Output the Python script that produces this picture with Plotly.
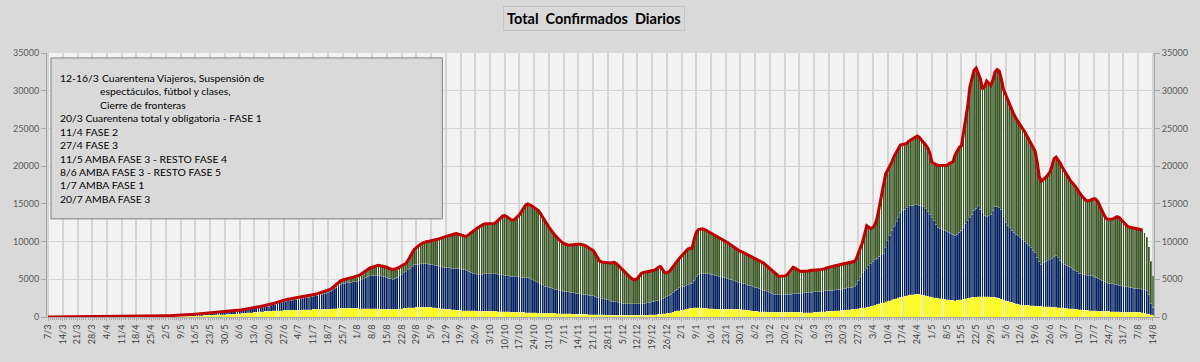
import plotly.graph_objects as go
import pandas as pd

# ---------------- DATA ----------------
inicio = "2020-03-07"

# total diario (tope de las barras / linea roja)
total = [
    3, 4, 6, 8, 10, 12, 15,
    18, 22, 27, 32, 38, 44, 50,
    56, 62, 68, 74, 80, 85, 90,
    95, 100, 104, 108, 110, 112, 112,
    112, 110, 110, 108, 108, 108, 110,
    110, 110, 112, 114, 115, 116, 118,
    120, 122, 125, 128, 130, 133, 136,
    140, 143, 147, 151, 155, 160, 165,
    170, 176, 182, 190, 200, 210, 220,
    230, 245, 262, 282, 305, 330, 355,
    380, 410, 440, 475, 510, 545, 575,
    600, 620, 640, 660, 690, 715, 735,
    750, 770, 790, 810, 840, 865, 885,
    900, 940, 990, 1040, 1100, 1150, 1200,
    1250, 1300, 1350, 1400, 1450, 1500, 1550,
    1600, 1680, 1780, 1880, 1980, 2080, 2170,
    2250, 2300, 2350, 2400, 2440, 2480, 2520,
    2550, 2600, 2650, 2710, 2770, 2830, 2890,
    2950, 3020, 3100, 3180, 3260, 3340, 3420,
    3500, 3650, 3850, 4100, 4350, 4600, 4800,
    4900, 5000, 5080, 5150, 5220, 5290, 5350,
    5400, 5550, 5750, 5950, 6150, 6350, 6500,
    6600, 6700, 6800, 6850, 6800, 6750, 6700,
    6600, 6450, 6350, 6300, 6350, 6450, 6600,
    6800, 6950, 7100, 7500, 8000, 8500, 8950,
    9200, 9450, 9650, 9800, 9950, 10000, 10050,
    10100, 10150, 10200, 10300, 10400, 10500, 10600,
    10700, 10800, 10900, 10950, 11000, 11050, 11000,
    10900, 10800, 10700, 10750, 10950, 11200, 11450,
    11600, 11800, 12000, 12200, 12300, 12350, 12350,
    12350, 12350, 12400, 12600, 12800, 13100, 13400,
    13450, 13300, 13100, 12900, 12850, 13000, 13300,
    13550, 14000, 14500, 14850, 15000, 14900, 14700,
    14500, 14300, 14100, 13700, 13300, 12800, 12350,
    11900, 11500, 11100, 10800, 10500, 10200, 9950,
    9750, 9600, 9550, 9550, 9600, 9650, 9650,
    9650, 9650, 9600, 9500, 9350, 9200, 9050,
    8800, 8400, 7900, 7450, 7300, 7250, 7200,
    7150, 7150, 7200, 7250, 7100, 6800, 6500,
    6280, 6000, 5700, 5400, 5150, 5000, 4950,
    5100, 5450, 5800, 5900, 5950, 6000, 6050,
    6100, 6200, 6350, 6600, 6700, 6300, 5900,
    5850, 6000, 6300, 6700, 7100, 7450, 7800,
    8100, 8400, 8700, 9000, 9100, 9100, 10300,
    11200, 11600, 11700, 11700, 11600, 11450, 11300,
    11100, 10950, 10800, 10650, 10500, 10350, 10200,
    10050, 9850, 9650, 9450, 9250, 9050, 8850,
    8700, 8600, 8450, 8300, 8150, 8000, 7850,
    7750, 7650, 7500, 7350, 7150, 6900, 6650,
    6450, 6200, 5950, 5700, 5450, 5400, 5400,
    5450, 5550, 5900, 6300, 6600, 6500, 6300,
    6100, 6050, 6050, 6100, 6100, 6150, 6150,
    6200, 6200, 6250, 6280, 6300, 6400, 6500,
    6600, 6700, 6750, 6800, 6850, 6900, 6950,
    7000, 7050, 7100, 7200, 7300, 7350, 7700,
    8400, 9100, 9900, 11000, 12100, 11900, 11700,
    11900, 12300, 13200, 14600, 16000, 17800, 19000,
    19500, 20000, 20600, 21300, 21900, 22300, 22800,
    22900, 22950, 23000, 23300, 23500, 23600, 23900,
    24000, 23800, 23500, 23100, 22800, 22400, 21700,
    20500, 20300, 20200, 20100, 20100, 20100, 20050,
    20100, 20300, 20400, 20600, 21500, 22000, 22500,
    22700, 24500, 26800, 28000, 30500, 31800, 32700,
    33000, 32400, 31600, 30200, 30600, 31300, 31000,
    30700, 31500, 32500, 32800, 32600, 31500, 30200,
    29500, 28800, 28000, 27300, 26800, 26300, 25800,
    25400, 25000, 24600, 24100, 23600, 23200, 22700,
    22000, 20500, 18600, 18000, 18200, 18500, 18800,
    19200, 20000, 21000, 21200, 20800, 20400, 19800,
    19300, 18800, 18400, 18000, 17700, 17400, 17000,
    16500, 16100, 15800, 15500, 15400, 15450, 15550,
    15700, 15600, 15200, 14600, 13900, 13400, 13000,
    12950, 12950, 13000, 13150, 13300, 13200, 12950,
    12600, 12300, 12000, 11900, 11850, 11800, 11800,
    11700, 11600, 11500, 11200, 10600, 9300, 7400,
    5500,
]

# serie inferior (amarilla)
amarillo = [
    1, 2, 3, 4, 5, 6, 7,
    8, 10, 12, 14, 16, 18, 20,
    22, 24, 26, 28, 30, 32, 34,
    36, 38, 40, 42, 43, 44, 44,
    44, 44, 44, 44, 44, 44, 45,
    45, 45, 46, 46, 47, 47, 48,
    48, 49, 50, 51, 52, 53, 54,
    56, 57, 59, 60, 62, 64, 66,
    68, 70, 73, 76, 80, 84, 88,
    92, 97, 104, 112, 120, 130, 140,
    150, 162, 175, 190, 205, 220, 235,
    250, 262, 275, 287, 300, 312, 322,
    330, 340, 350, 360, 375, 390, 410,
    440, 465, 490, 515, 540, 565, 590,
    615, 640, 665, 690, 715, 740, 760,
    780, 795, 810, 825, 840, 850, 860,
    870, 875, 880, 885, 890, 900, 905,
    910, 925, 940, 950, 965, 975, 990,
    1000, 1005, 1010, 1015, 1020, 1030, 1035,
    1040, 1060, 1080, 1100, 1120, 1140, 1160,
    1170, 1170, 1165, 1160, 1150, 1145, 1140,
    1130, 1125, 1120, 1115, 1110, 1100, 1095,
    1090, 1085, 1080, 1070, 1060, 1055, 1050,
    1040, 1020, 1010, 1000, 1020, 1050, 1080,
    1110, 1140, 1170, 1200, 1220, 1240, 1260,
    1270, 1280, 1290, 1295, 1300, 1300, 1290,
    1270, 1250, 1220, 1190, 1160, 1120, 1090,
    1060, 1030, 1000, 975, 950, 920, 895,
    870, 860, 850, 840, 830, 820, 810,
    800, 795, 790, 780, 775, 770, 760,
    750, 745, 740, 730, 720, 710, 700,
    690, 680, 670, 660, 650, 640, 630,
    620, 610, 600, 590, 575, 565, 555,
    545, 535, 525, 515, 505, 495, 490,
    480, 475, 470, 465, 460, 450, 440,
    430, 420, 410, 400, 395, 385, 375,
    370, 365, 355, 345, 335, 325, 318,
    310, 300, 290, 282, 275, 268, 262,
    255, 250, 245, 240, 235, 230, 225,
    222, 220, 220, 220, 220, 220, 220,
    220, 220, 220, 220, 230, 250, 270,
    290, 310, 330, 360, 390, 415, 440,
    480, 530, 590, 650, 740, 800, 860,
    920, 980, 1040, 1100, 1150, 1180, 1200,
    1215, 1220, 1210, 1190, 1160, 1130, 1110,
    1090, 1075, 1060, 1045, 1030, 1015, 1000,
    1000, 1000, 1000, 1000, 1000, 1000, 1000,
    1000, 980, 950, 910, 870, 830, 790,
    760, 740, 720, 700, 685, 670, 660,
    655, 650, 650, 650, 650, 650, 650,
    650, 650, 650, 650, 645, 640, 630,
    615, 600, 590, 580, 570, 575, 590,
    610, 630, 650, 670, 690, 710, 730,
    750, 770, 790, 810, 830, 850, 870,
    890, 920, 950, 980, 1010, 1040, 1065,
    1090, 1140, 1200, 1260, 1320, 1380, 1430,
    1500, 1580, 1660, 1740, 1830, 1920, 2000,
    2090, 2170, 2260, 2350, 2440, 2520, 2600,
    2680, 2750, 2820, 2870, 2920, 2960, 3000,
    3000, 2990, 2970, 2900, 2830, 2760, 2690,
    2630, 2580, 2530, 2470, 2430, 2390, 2350,
    2310, 2270, 2230, 2200, 2170, 2200, 2260,
    2320, 2380, 2440, 2500, 2550, 2600, 2630,
    2650, 2670, 2690, 2700, 2700, 2690, 2670,
    2650, 2630, 2600, 2560, 2480, 2380, 2270,
    2170, 2090, 2010, 1930, 1850, 1770, 1690,
    1610, 1590, 1570, 1550, 1530, 1500, 1470,
    1450, 1430, 1415, 1400, 1385, 1370, 1350,
    1335, 1320, 1300, 1280, 1255, 1230, 1200,
    1175, 1150, 1120, 1090, 1065, 1040, 1010,
    980, 955, 925, 900, 870, 855, 840,
    825, 810, 795, 780, 765, 750, 740,
    730, 720, 710, 700, 690, 670, 650,
    650, 650, 650, 650, 650, 650, 650,
    650, 620, 580, 520, 440, 360, 290,
    220,
]

# serie intermedia (azul)
azul = [
    2, 2, 3, 4, 5, 6, 8,
    10, 12, 15, 18, 21, 24, 27,
    30, 33, 36, 40, 43, 46, 48,
    50, 53, 55, 57, 58, 59, 59,
    59, 58, 58, 57, 57, 57, 58,
    58, 58, 59, 60, 60, 61, 62,
    63, 64, 66, 67, 68, 70, 71,
    73, 75, 77, 79, 81, 84, 86,
    89, 92, 95, 99, 104, 109, 114,
    118, 124, 130, 138, 148, 158, 168,
    180, 192, 205, 218, 232, 246, 258,
    270, 280, 288, 296, 307, 318, 326,
    330, 335, 340, 345, 350, 355, 360,
    380, 395, 415, 435, 460, 480, 500,
    515, 535, 550, 570, 590, 610, 635,
    660, 720, 800, 880, 960, 1040, 1110,
    1170, 1210, 1250, 1300, 1340, 1380, 1410,
    1440, 1480, 1520, 1570, 1610, 1660, 1700,
    1750, 1810, 1870, 1930, 1990, 2050, 2110,
    2160, 2300, 2460, 2650, 2850, 3030, 3150,
    3230, 3300, 3350, 3400, 3450, 3500, 3540,
    3570, 3680, 3830, 3980, 4130, 4260, 4350,
    4410, 4450, 4470, 4460, 4420, 4380, 4330,
    4260, 4150, 4050, 4000, 4100, 4250, 4400,
    4550, 4700, 4850, 5050, 5250, 5450, 5670,
    5700, 5730, 5750, 5765, 5760, 5740, 5720,
    5700, 5680, 5660, 5640, 5600, 5570, 5530,
    5530, 5530, 5520, 5520, 5510, 5510, 5500,
    5500, 5500, 5420, 5320, 5220, 5120, 5020,
    4920, 4835, 4870, 4900, 4930, 4960, 4990,
    5010, 5020, 5020, 5000, 4970, 4930, 4890,
    4850, 4820, 4790, 4760, 4750, 4740, 4720,
    4700, 4680, 4660, 4640, 4625, 4500, 4380,
    4250, 4130, 4000, 3870, 3740, 3615, 3540,
    3460, 3390, 3310, 3240, 3170, 3100, 3020,
    2990, 2960, 2930, 2890, 2860, 2830, 2795,
    2760, 2720, 2690, 2650, 2620, 2580, 2550,
    2510, 2440, 2360, 2290, 2210, 2140, 2070,
    2000, 1920, 1870, 1820, 1770, 1720, 1670,
    1620, 1570, 1520, 1520, 1520, 1520, 1520,
    1520, 1520, 1520, 1520, 1560, 1610, 1660,
    1720, 1770, 1830, 1890, 1975, 2050, 2130,
    2210, 2290, 2440, 2590, 2740, 2890, 3030,
    3080, 3130, 3180, 3230, 3280, 3320, 3700,
    4100, 4400, 4550, 4570, 4580, 4590, 4600,
    4610, 4550, 4490, 4430, 4370, 4310, 4250,
    4190, 4100, 4000, 3910, 3820, 3730, 3630,
    3540, 3490, 3440, 3390, 3340, 3290, 3240,
    3190, 3150, 3060, 2970, 2880, 2790, 2700,
    2600, 2500, 2390, 2390, 2390, 2390, 2390,
    2390, 2390, 2390, 2390, 2430, 2460, 2500,
    2530, 2570, 2600, 2640, 2675, 2690, 2700,
    2710, 2720, 2730, 2740, 2745, 2750, 2755,
    2760, 2770, 2780, 2790, 2800, 2810, 2820,
    2850, 2870, 2900, 2930, 2950, 2980, 3300,
    3700, 4200, 4640, 4900, 5150, 5400, 5650,
    5860, 6000, 6150, 6300, 6450, 6520, 7200,
    8000, 8660, 9200, 9700, 10200, 10700, 11250,
    11400, 11550, 11700, 11850, 11850, 11850, 11850,
    11850, 11820, 11800, 11750, 11500, 11200, 10940,
    10550, 10200, 9800, 9430, 9320, 9200, 9090,
    9000, 8980, 8900, 8800, 8660, 8800, 9000,
    9150, 9500, 9900, 10300, 10700, 11030, 11500,
    11800, 12050, 11600, 11100, 10720, 10700, 10730,
    11000, 11500, 12100, 12100, 12000, 11920, 11000,
    10330, 10080, 9820, 9570, 9400, 9230, 9060,
    8890, 8650, 8420, 8200, 7970, 7670, 7360,
    7050, 6500, 6000, 5600, 5800, 6000, 6100,
    6265, 6500, 6700, 6920, 6600, 6300, 6000,
    5850, 5700, 5550, 5410, 5260, 5110, 4960,
    4820, 4780, 4740, 4700, 4670, 4645, 4615,
    4585, 4450, 4320, 4190, 4060, 3930, 3800,
    3750, 3710, 3670, 3620, 3580, 3530, 3480,
    3430, 3380, 3330, 3270, 3220, 3160, 3110,
    3110, 3110, 3120, 3100, 3060, 2680, 1450,
    1080,
]

dias_linea = 521  # la linea roja termina unos dias antes del final

notas_col1 = ["12-16/3", "", "",
              "20/3 Cuarentena total y obligatoria - FASE 1",
              "11/4 FASE 2", "27/4 FASE 3",
              "11/5 AMBA FASE 3 - RESTO FASE 4",
              "8/6 AMBA FASE 3 - RESTO FASE 5",
              "1/7 AMBA FASE 1", "20/7 AMBA FASE 3"]
notas_col2 = ["Cuarentena Viajeros, Suspensión de",
              "espectáculos, fútbol y clases,",
              "Cierre de fronteras"]

titulo = "Total\u00a0 Confirmados\u00a0 Diarios"

assert len(total) == len(amarillo) == len(azul), (len(total), len(amarillo), len(azul))

# ---------------- FIGURE ----------------
fechas = pd.date_range(inicio, periods=len(total), freq="D")
verde = [max(0, t - a - b) for t, a, b in zip(total, amarillo, azul)]

W, H = 1200, 362
L, R, T, B = 47, 33, 53, 40
PW, PH = W - L - R, H - T - B


def px_x(px):
    return (px - L) / PW


def px_y(py):
    return (H - B - py) / PH


borde = dict(width=0.35, color="rgba(235,235,235,0.8)")
fig = go.Figure()
fig.add_bar(x=fechas, y=amarillo, marker=dict(color="#ffff00", line=borde), name="a")
fig.add_bar(x=fechas, y=azul, marker=dict(color="#002060", line=borde), name="b")
fig.add_bar(x=fechas, y=verde, marker=dict(color="#385723", line=borde), name="c")
fig.add_scatter(x=fechas[:dias_linea], y=total[:dias_linea], mode="lines",
                line=dict(color="#c00000", width=3), yaxis="y2", name="total")

FONT = "Lato, Open Sans, sans-serif"
axis_font = dict(family=FONT, size=9, color="#595959")
grid = "#d4d4d4"

fig.update_layout(
    width=W, height=H, autosize=False,
    margin=dict(l=L, r=R, t=T, b=B, pad=0),
    paper_bgcolor="#d9d9d9", plot_bgcolor="#f2f2f2",
    barmode="stack", bargap=0.1, showlegend=False,
    font=dict(family=FONT),
    xaxis=dict(
        type="date",
        range=[pd.Timestamp(inicio) - pd.Timedelta(hours=12),
               fechas[-1] + pd.Timedelta(hours=12)],
        tick0=inicio, dtick=7 * 86400000, tickformat="%-d/%-m",
        tickangle=-90, tickfont=dict(family=FONT, size=9, color="#404040"),
        showgrid=True, gridcolor=grid, gridwidth=1.5,
        ticks="outside", ticklen=3, tickcolor="#a6a6a6",
        showline=True, linecolor="#a6a6a6", linewidth=1,
        minor=dict(dtick=86400000, ticks="outside", ticklen=2, tickcolor="#a6a6a6", showgrid=False),
        fixedrange=True,
    ),
    yaxis=dict(
        range=[0, 35000], dtick=5000, tickformat="d", tickfont=axis_font,
        showgrid=True, gridcolor=grid, gridwidth=1, zeroline=False,
        ticks="outside", ticklen=5, tickcolor="#a6a6a6",
        showline=True, linecolor="#a6a6a6",
    ),
    yaxis2=dict(
        range=[0, 35000], dtick=5000, tickformat="d", tickfont=axis_font,
        overlaying="y", side="right", showgrid=False, zeroline=False,
        ticks="outside", ticklen=5, tickcolor="#a6a6a6",
        showline=True, linecolor="#a6a6a6",
    ),
)

# cuadro de notas
fig.add_shape(type="rect", xref="paper", yref="paper", layer="above",
              x0=px_x(51), x1=px_x(447), y0=px_y(222), y1=px_y(58),
              fillcolor="#d9d9d9", line=dict(color="#808080", width=1))

nota_font = dict(family=FONT, size=10.4, color="#000000")
col2_x = [101, 99, 99]
for i, txt in enumerate(notas_col1):
    if txt:
        fig.add_annotation(xref="paper", yref="paper", x=px_x(58), y=px_y(78.3 + 13.7 * i),
                           text=txt, showarrow=False, xanchor="left", yanchor="middle",
                           font=nota_font)
for i, txt in enumerate(notas_col2):
    fig.add_annotation(xref="paper", yref="paper", x=px_x(col2_x[i]), y=px_y(78.3 + 13.7 * i),
                       text=txt, showarrow=False, xanchor="left", yanchor="middle",
                       font=nota_font)

# titulo
fig.add_annotation(xref="paper", yref="paper", x=px_x(600), y=px_y(18),
                   text="<b>" + titulo + "</b>", showarrow=False,
                   xanchor="center", yanchor="middle",
                   font=dict(family=FONT, size=14.5, color="#000000"),
                   bgcolor="#d9d9d9", bordercolor="#c4c4c4", borderwidth=1, borderpad=3)

fig.write_html("out.html", config={"displayModeBar": False},
               post_script="document.body.style.margin='0px';document.body.style.overflow='hidden';")
